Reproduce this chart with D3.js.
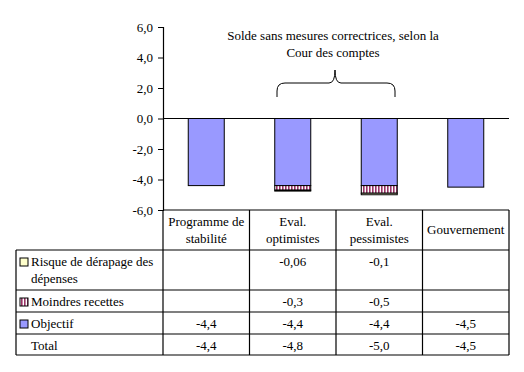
<!DOCTYPE html>
<html>
<head>
<meta charset="utf-8">
<script src="https://cdn.jsdelivr.net/npm/d3@7"></script>
<style>
  body { margin: 0; background: #fff; }
</style>
</head>
<body>
<svg width="524" height="372"></svg>
<script>
// categories and series
var categories = ['Programme de\nstabilité', 'Eval.\noptimistes', 'Eval.\npessimistes', 'Gouvernement'];
var objectif = [-4.4, -4.4, -4.4, -4.5];
var recettes = [null, -0.3, -0.5, null];
var risque = [null, -0.06, -0.1, null];
var total = ['-4,4', '-4,8', '-5,0', '-4,5'];
var yTicks = [6, 4, 2, 0, -2, -4, -6];

var rowNames = ['Risque de dérapage des\ndépenses', 'Moindres recettes', 'Objectif', 'Total'];
var rowVals = [
  [null, '-0,06', '-0,1', null],
  [null, '-0,3', '-0,5', null],
  ['-4,4', '-4,4', '-4,4', '-4,5'],
  total
];

var FONT = '"Liberation Serif", "Times New Roman", Times, "DejaVu Serif", serif';

var svg = d3.select('svg')
  .attr('font-family', FONT).attr('font-size', 13);
var defs = svg.append('defs');
var pat = defs.append('pattern')
  .attr('id', 'stripes')
  .attr('patternUnits', 'userSpaceOnUse')
  .attr('width', 3).attr('height', 4);
pat.append('rect').attr('width', 3).attr('height', 4).attr('fill', '#fff');
pat.append('rect').attr('width', 1.6).attr('height', 4).attr('fill', '#993366');

var left = 163, right = 509;
var x = d3.scaleBand().domain(d3.range(categories.length)).range([left, right]);
var y = d3.scaleLinear().domain([-6, 6]).range([210, 27]);

// axis
var axis = d3.axisLeft(y).tickValues(yTicks).tickSize(5)
  .tickFormat(function(d) { return d3.format('.1f')(d).replace('.', ',').replace('−', '-'); });
var ag = svg.append('g').attr('transform', 'translate(' + left + ',0)').call(axis)
  .attr('font-family', FONT).attr('font-size', 13);
ag.selectAll('text').attr('dx', -2).attr('fill', '#000');
ag.selectAll('line').attr('stroke', '#000');
ag.select('.domain').attr('stroke', '#000').attr('stroke-width', 1.2);

// bars
var bw = 36;
function cx(i) { return x(i) + x.bandwidth() / 2 - bw / 2; }
function stack(i) {
  var parts = [];
  var base = 0;
  [[objectif, '#9999FF'], [recettes, 'url(#stripes)'], [risque, '#FFFFCC']].forEach(function(s) {
    var v = s[0][i];
    if (v == null) return;
    parts.push({ i: i, y0: base, y1: base + v, fill: s[1] });
    base += v;
  });
  return parts;
}
var segs = [];
categories.forEach(function(c, i) { segs = segs.concat(stack(i)); });
svg.selectAll('rect.bar').data(segs).enter().append('rect')
  .attr('class', 'bar')
  .attr('x', function(d) { return cx(d.i); })
  .attr('y', function(d) { return y(d.y0); })
  .attr('width', bw)
  .attr('height', function(d) { return y(d.y1) - y(d.y0); })
  .attr('fill', function(d) { return d.fill; })
  .attr('stroke', '#000').attr('stroke-width', 1);

// zero line
svg.append('line').attr('x1', left).attr('x2', right).attr('y1', y(0)).attr('y2', y(0))
  .attr('stroke', '#000').attr('stroke-width', 1.2);

// annotation
svg.append('text').attr('x', 333).attr('y', 40).attr('text-anchor', 'middle')
  .text('Solde sans mesures correctrices, selon la');
svg.append('text').attr('x', 333).attr('y', 57).attr('text-anchor', 'middle')
  .text('Cour des comptes');
var bx0 = 277, bx1 = 395, bm = 335;
svg.append('path')
  .attr('d', 'M' + bx0 + ',97 L' + bx0 + ',91 Q' + bx0 + ',83 ' + (bx0 + 8) + ',83 L' + (bm - 6) + ',83 Q' + bm + ',83 ' + bm + ',70'
    + ' Q' + bm + ',83 ' + (bm + 6) + ',83 L' + (bx1 - 8) + ',83 Q' + bx1 + ',83 ' + bx1 + ',91 L' + bx1 + ',97')
  .attr('fill', 'none').attr('stroke', '#000').attr('stroke-width', 1);

// table
var rowY = [210, 250, 290, 312, 334, 355];
var tLeft = 16;
var grid = svg.append('g').attr('stroke', '#000').attr('stroke-width', 1.2);
rowY.forEach(function(ry, k) {
  grid.append('line').attr('x1', k === 0 ? left : tLeft).attr('x2', right).attr('y1', ry).attr('y2', ry);
});
grid.append('line').attr('x1', tLeft).attr('x2', tLeft).attr('y1', rowY[1]).attr('y2', rowY[5]);
d3.range(categories.length + 1).forEach(function(i) {
  var xx = i < categories.length ? x(i) : right;
  grid.append('line').attr('x1', xx).attr('x2', xx).attr('y1', rowY[0]).attr('y2', rowY[5]);
});

function multiline(g, str, xx, yy, anchor) {
  var t = g.append('text').attr('x', xx).attr('y', yy).attr('text-anchor', anchor);
  str.split('\n').forEach(function(s, k) {
    t.append('tspan').attr('x', xx).attr('dy', k === 0 ? 0 : 17).text(s);
  });
}

// header
categories.forEach(function(c, i) {
  var lines = c.split('\n').length;
  multiline(svg, c, x(i) + x.bandwidth() / 2, lines === 1 ? 234 : 226, 'middle');
});

// legend rows
var markers = ['#FFFFCC', 'url(#stripes)', '#9999FF', null];
rowNames.forEach(function(n, r) {
  var top = rowY[r + 1];
  if (markers[r]) {
    svg.append('rect').attr('x', 20).attr('y', top + 8).attr('width', 8).attr('height', 8)
      .attr('fill', markers[r]).attr('stroke', '#000').attr('stroke-width', 1);
  }
  multiline(svg, n, 31, top + 16, 'start');
  rowVals[r].forEach(function(v, i) {
    if (v == null) return;
    svg.append('text').attr('x', x(i) + x.bandwidth() / 2).attr('y', top + 16)
      .attr('text-anchor', 'middle').text(v);
  });
});
</script>
</body>
</html>
